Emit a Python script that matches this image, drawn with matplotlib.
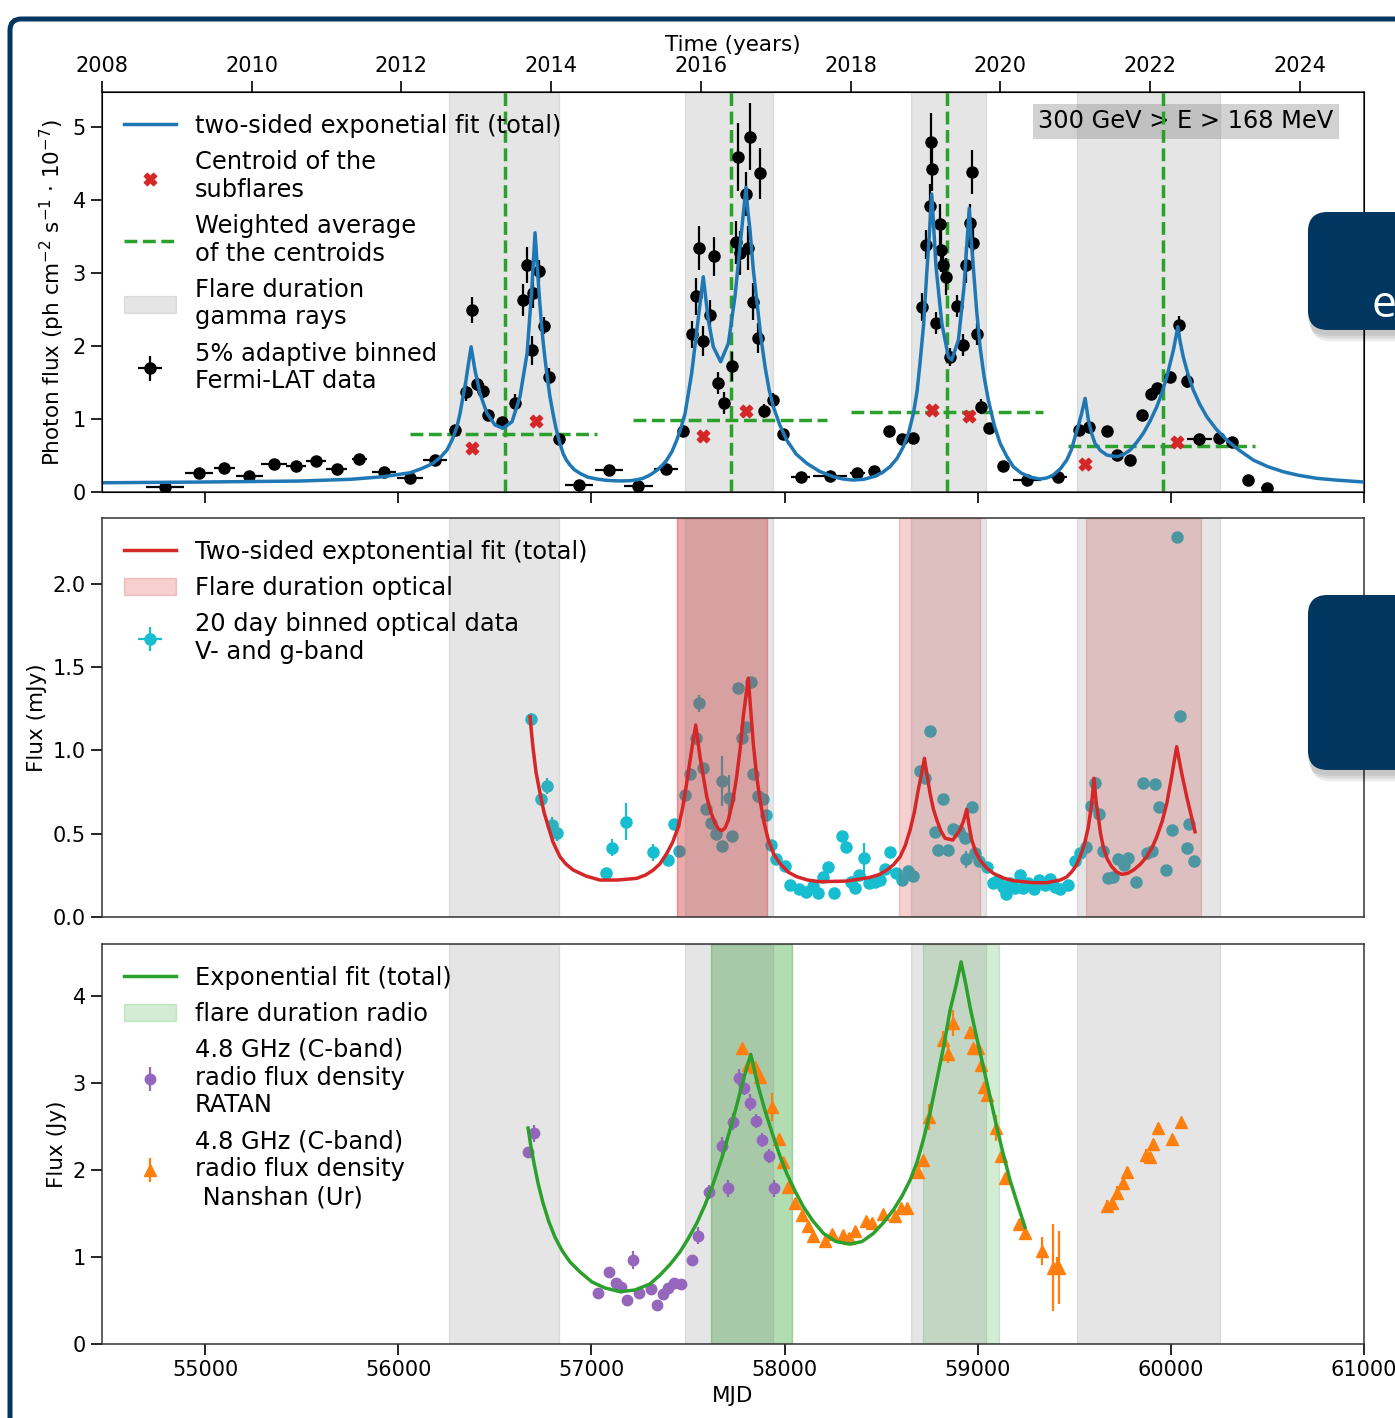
import matplotlib
matplotlib.use("Agg")
import matplotlib.pyplot as plt
import matplotlib.patches as patches

# ---- gamma rays: Fermi-LAT, 5% adaptive binning (MJD, flux in 1e-7 ph cm-2 s-1)
fermi_mjd = [54792, 54970, 55099, 55229, 55358, 55470, 55574, 55681, 55798, 55926,
             56061, 56190, 56294, 56349, 56380, 56406, 56440, 56466, 56535, 56604,
             56644, 56668, 56694, 56699, 56730, 56756, 56782, 56832, 56936, 57093,
             57243, 57386, 57476, 57519, 57540, 57557, 57579, 57614, 57636, 57654,
             57686, 57726, 57747, 57760, 57769, 57799, 57812, 57820, 57835, 57861,
             57873, 57895, 57939, 57994, 58084, 58235, 58377, 58465, 58542, 58607,
             58664, 58710, 58731, 58753, 58757, 58765, 58783, 58805, 58808, 58819,
             58834, 58857, 58891, 58926, 58939, 58960, 58969, 58977, 58995, 59017,
             59060, 59130, 59254, 59417, 59526, 59578, 59668, 59723, 59789, 59852,
             59896, 59927, 59996, 60044, 60082, 60147, 60251, 60318, 60401, 60496]
fermi_flux = [0.07, 0.26, 0.33, 0.22, 0.38, 0.36, 0.42, 0.32, 0.45, 0.28,
              0.19, 0.44, 0.85, 1.37, 2.49, 1.48, 1.39, 1.05, 0.96, 1.22,
              2.63, 3.11, 1.94, 2.72, 3.03, 2.28, 1.58, 0.72, 0.10, 0.30,
              0.08, 0.32, 0.83, 2.16, 2.68, 3.34, 2.07, 2.43, 3.23, 1.50,
              1.22, 1.72, 3.42, 4.59, 3.27, 4.08, 3.34, 4.87, 2.61, 2.11,
              4.37, 1.11, 1.26, 0.79, 0.21, 0.22, 0.26, 0.29, 0.84, 0.73,
              0.74, 2.53, 3.39, 3.92, 4.80, 4.42, 2.32, 3.67, 3.31, 3.11,
              2.95, 1.85, 2.55, 2.01, 3.11, 3.69, 4.38, 3.41, 2.17, 1.17,
              0.88, 0.35, 0.17, 0.20, 0.85, 0.89, 0.84, 0.51, 0.44, 1.05,
              1.35, 1.42, 1.57, 2.29, 1.52, 0.72, 0.74, 0.68, 0.16, 0.06]
fermi_xerr = [98, 72, 55, 70, 67, 50, 50, 55, 40, 60,
              65, 60, 20, 10, 8, 8, 10, 10, 15, 12,
              8, 8, 6, 6, 8, 8, 10, 15, 72, 72,
              75, 60, 15, 8, 6, 6, 6, 8, 6, 8,
              8, 6, 5, 5, 5, 5, 5, 5, 6, 6,
              6, 10, 15, 20, 50, 86, 40, 30, 15, 15,
              15, 6, 5, 5, 4, 4, 5, 4, 4, 4,
              5, 6, 6, 6, 5, 5, 5, 5, 6, 10,
              15, 25, 73, 45, 15, 15, 15, 15, 15, 12,
              10, 10, 10, 8, 10, 65, 25, 20, 25, 30]
fermi_yerr = [0.03, 0.04, 0.04, 0.04, 0.04, 0.04, 0.04, 0.04, 0.04, 0.04,
              0.03, 0.04, 0.06, 0.12, 0.18, 0.10, 0.10, 0.06, 0.06, 0.12,
              0.22, 0.25, 0.20, 0.20, 0.15, 0.12, 0.12, 0.05, 0.03, 0.03,
              0.03, 0.04, 0.08, 0.18, 0.25, 0.30, 0.20, 0.20, 0.27, 0.15,
              0.15, 0.20, 0.30, 0.46, 0.30, 0.30, 0.30, 0.46, 0.25, 0.20,
              0.35, 0.10, 0.10, 0.05, 0.03, 0.03, 0.03, 0.03, 0.05, 0.05,
              0.05, 0.19, 0.20, 0.30, 0.39, 0.30, 0.15, 0.28, 0.30, 0.20,
              0.25, 0.12, 0.15, 0.15, 0.25, 0.25, 0.30, 0.30, 0.15, 0.10,
              0.06, 0.03, 0.03, 0.03, 0.06, 0.06, 0.06, 0.04, 0.04, 0.08,
              0.08, 0.08, 0.07, 0.12, 0.10, 0.04, 0.04, 0.04, 0.03, 0.03]

# two-sided exponential fit (total)
fermi_fit_mjd = [54466, 54973, 55491, 55750, 55921, 56061, 56120, 56180, 56220, 56252,
                 56280, 56304, 56320, 56335, 56350, 56361, 56377, 56397, 56423, 56459,
                 56501, 56542, 56589, 56630, 56667, 56692, 56708, 56729, 56739, 56749,
                 56760, 56770, 56785, 56801, 56816, 56832, 56853, 56870, 56889, 56912,
                 56941, 56980, 57029, 57070, 57112, 57155, 57200, 57235, 57267, 57303,
                 57340, 57370, 57390, 57418, 57442, 57465, 57485, 57519, 57548, 57579,
                 57605, 57631, 57669, 57709, 57743, 57778, 57800, 57810, 57821, 57838,
                 57856, 57877, 57899, 57920, 57942, 57975, 58011, 58060, 58115, 58180,
                 58252, 58300, 58356, 58410, 58460, 58505, 58546, 58582, 58615, 58643,
                 58667, 58686, 58701, 58720, 58736, 58750, 58762, 58784, 58814, 58848,
                 58865, 58900, 58929, 58956, 58966, 58977, 58994, 59012, 59033, 59055,
                 59085, 59116, 59150, 59184, 59225, 59271, 59323, 59360, 59391, 59428,
                 59461, 59485, 59504, 59522, 59538, 59556, 59573, 59590, 59607, 59635,
                 59668, 59720, 59755, 59789, 59823, 59857, 59893, 59927, 59955, 59979,
                 60013, 60036, 60048, 60064, 60088, 60116, 60150, 60186, 60235, 60289,
                 60350, 60427, 60500, 60582, 60660, 60755, 60850, 61000]
fermi_fit_flux = [0.127, 0.137, 0.151, 0.174, 0.210, 0.264, 0.320, 0.393, 0.480, 0.575,
                  0.720, 0.895, 1.080, 1.305, 1.520, 1.716, 1.990, 1.671, 1.352, 1.078,
                  0.918, 0.873, 0.963, 1.305, 1.900, 2.812, 3.552, 2.722, 2.380, 2.082,
                  1.820, 1.603, 1.310, 1.078, 0.880, 0.712, 0.530, 0.440, 0.370, 0.305,
                  0.256, 0.205, 0.178, 0.163, 0.155, 0.152, 0.155, 0.168, 0.188, 0.233,
                  0.300, 0.375, 0.438, 0.560, 0.712, 0.890, 1.078, 1.626, 2.264, 2.949,
                  2.356, 1.990, 1.785, 2.037, 2.675, 3.589, 4.174, 3.850, 3.589, 3.050,
                  2.630, 2.130, 1.716, 1.400, 1.168, 0.920, 0.712, 0.520, 0.393, 0.285,
                  0.210, 0.180, 0.164, 0.175, 0.210, 0.265, 0.347, 0.460, 0.621, 0.820,
                  1.078, 1.380, 1.763, 2.300, 2.996, 3.550, 4.082, 3.086, 2.311, 1.853,
                  1.808, 2.082, 2.812, 3.886, 3.450, 3.086, 2.500, 1.990, 1.580, 1.260,
                  0.920, 0.667, 0.490, 0.347, 0.260, 0.205, 0.178, 0.195, 0.233, 0.320,
                  0.438, 0.580, 0.758, 0.920, 1.078, 1.284, 0.986, 0.800, 0.667, 0.570,
                  0.507, 0.484, 0.515, 0.575, 0.680, 0.804, 0.975, 1.168, 1.370, 1.579,
                  1.945, 2.264, 2.060, 1.853, 1.620, 1.397, 1.200, 1.032, 0.860, 0.712,
                  0.580, 0.438, 0.350, 0.278, 0.230, 0.188, 0.165, 0.137]

centroid_mjd = [56380, 56711, 57576, 57800, 58762, 58956, 59556, 60030]
centroid_flux = [0.60, 0.98, 0.77, 1.11, 1.12, 1.04, 0.38, 0.68]

wavg_mjd = [56553, 57721, 58843, 59961]
wavg_level = [0.79, 0.99, 1.09, 0.63]
wavg_start = [56061, 57215, 58342, 59469]
wavg_end = [57029, 58218, 59338, 60436]

gamma_start = [56262, 57486, 58655, 59516]
gamma_end = [56832, 57939, 59041, 60255]

# ---- optical, 20 day bins (mJy)
opt_mjd = [56687, 56737, 56768, 56794, 56823, 57075, 57105, 57177, 57317, 57398,
           57429, 57453, 57485, 57510, 57540, 57557, 57579, 57593, 57619, 57644,
           57675, 57678, 57712, 57728, 57760, 57778, 57799, 57825, 57838, 57864,
           57887, 57904, 57928, 57956, 58002, 58028, 58076, 58111, 58149, 58172,
           58201, 58226, 58258, 58299, 58317, 58342, 58365, 58387, 58411, 58439,
           58468, 58494, 58520, 58546, 58575, 58607, 58641, 58664, 58701, 58727,
           58753, 58779, 58796, 58819, 58848, 58874, 58905, 58934, 58938, 58969,
           58986, 59008, 59050, 59081, 59107, 59130, 59145, 59167, 59193, 59219,
           59236, 59262, 59292, 59317, 59348, 59374, 59400, 59426, 59469, 59504,
           59530, 59559, 59585, 59607, 59630, 59647, 59676, 59702, 59728, 59757,
           59780, 59820, 59854, 59875, 59901, 59918, 59937, 59973, 60004, 60030,
           60049, 60082, 60096, 60122]
opt_flux = [1.187, 0.707, 0.787, 0.553, 0.506, 0.262, 0.416, 0.572, 0.388, 0.342,
            0.557, 0.398, 0.733, 0.859, 1.073, 1.283, 0.893, 0.647, 0.566, 0.498,
            0.426, 0.819, 0.713, 0.486, 1.374, 1.073, 1.139, 1.410, 0.857, 0.729,
            0.707, 0.611, 0.432, 0.346, 0.306, 0.192, 0.166, 0.152, 0.186, 0.142,
            0.238, 0.298, 0.142, 0.486, 0.422, 0.212, 0.172, 0.252, 0.356, 0.206,
            0.212, 0.222, 0.286, 0.392, 0.266, 0.222, 0.278, 0.248, 0.879, 0.833,
            1.119, 0.512, 0.402, 0.709, 0.402, 0.527, 0.518, 0.473, 0.346, 0.662,
            0.386, 0.336, 0.302, 0.206, 0.222, 0.182, 0.136, 0.202, 0.172, 0.252,
            0.172, 0.202, 0.168, 0.222, 0.192, 0.226, 0.182, 0.168, 0.192, 0.338,
            0.383, 0.422, 0.667, 0.807, 0.617, 0.398, 0.232, 0.242, 0.346, 0.312,
            0.352, 0.212, 0.803, 0.383, 0.398, 0.799, 0.662, 0.282, 0.523, 2.284,
            1.207, 0.413, 0.557, 0.336]
opt_err = [0.04, 0.04, 0.05, 0.05, 0.05, 0.03, 0.05, 0.11, 0.05, 0.03,
           0.03, 0.03, 0.03, 0.03, 0.03, 0.05, 0.03, 0.03, 0.03, 0.03,
           0.03, 0.15, 0.14, 0.03, 0.03, 0.03, 0.03, 0.03, 0.03, 0.03,
           0.03, 0.03, 0.03, 0.03, 0.02, 0.02, 0.02, 0.02, 0.02, 0.02,
           0.02, 0.02, 0.02, 0.02, 0.02, 0.02, 0.02, 0.02, 0.09, 0.02,
           0.02, 0.02, 0.02, 0.02, 0.02, 0.02, 0.02, 0.02, 0.02, 0.02,
           0.02, 0.02, 0.02, 0.02, 0.02, 0.02, 0.02, 0.02, 0.05, 0.02,
           0.02, 0.02, 0.02, 0.02, 0.02, 0.02, 0.02, 0.02, 0.02, 0.02,
           0.02, 0.02, 0.02, 0.02, 0.02, 0.02, 0.02, 0.02, 0.02, 0.02,
           0.02, 0.02, 0.02, 0.02, 0.02, 0.02, 0.02, 0.02, 0.02, 0.02,
           0.02, 0.02, 0.02, 0.02, 0.02, 0.02, 0.02, 0.02, 0.02, 0.02,
           0.02, 0.02, 0.02, 0.02]

opt_fit_mjd = [56682, 56690, 56699, 56713, 56734, 56754, 56777, 56801, 56837, 56868,
               56906, 56972, 57044, 57132, 57234, 57280, 57320, 57355, 57390, 57420,
               57450, 57472, 57493, 57519, 57540, 57562, 57597, 57618, 57640, 57657,
               57675, 57692, 57709, 57731, 57752, 57770, 57786, 57812, 57838, 57855,
               57873, 57894, 57916, 57945, 57976, 58018, 58063, 58120, 58184, 58322,
               58442, 58490, 58529, 58565, 58598, 58625, 58650, 58672, 58692, 58709,
               58724, 58753, 58770, 58788, 58808, 58831, 58871, 58908, 58926, 58943,
               58955, 58969, 58990, 59012, 59045, 59081, 59130, 59184, 59288, 59357,
               59426, 59460, 59487, 59510, 59530, 59553, 59573, 59590, 59602, 59612,
               59624, 59636, 59650, 59670, 59694, 59720, 59746, 59775, 59806, 59840,
               59875, 59902, 59927, 59955, 59979, 60004, 60030, 60056, 60082, 60125]
opt_fit_flux = [1.203, 1.105, 1.003, 0.871, 0.743, 0.631, 0.542, 0.450, 0.362, 0.318,
                0.282, 0.246, 0.222, 0.222, 0.232, 0.252, 0.282, 0.320, 0.382, 0.448,
                0.542, 0.653, 0.803, 1.003, 1.153, 0.963, 0.723, 0.630, 0.563, 0.530,
                0.518, 0.535, 0.583, 0.690, 0.843, 1.010, 1.203, 1.434, 1.043, 0.850,
                0.703, 0.565, 0.462, 0.375, 0.322, 0.270, 0.242, 0.222, 0.212, 0.216,
                0.238, 0.255, 0.282, 0.315, 0.362, 0.430, 0.523, 0.630, 0.763, 0.860,
                0.953, 0.743, 0.650, 0.583, 0.520, 0.473, 0.462, 0.523, 0.575, 0.647,
                0.550, 0.462, 0.390, 0.342, 0.295, 0.262, 0.235, 0.218, 0.206, 0.206,
                0.222, 0.240, 0.272, 0.310, 0.362, 0.440, 0.542, 0.680, 0.833, 0.700,
                0.602, 0.500, 0.422, 0.350, 0.302, 0.270, 0.256, 0.262, 0.282, 0.315,
                0.362, 0.415, 0.482, 0.575, 0.683, 0.843, 1.023, 0.863, 0.723, 0.512]

# first optical flare is shaded twice in the original
optical_start = [57443, 57443, 58593, 59561]
optical_end = [57909, 57909, 59012, 60156]

# ---- radio 4.8 GHz (Jy)
ratan_mjd = [56673, 56704, 57036, 57093, 57127, 57153, 57186, 57217, 57248, 57307,
             57338, 57369, 57398, 57429, 57462, 57519, 57553, 57610, 57678, 57706,
             57735, 57766, 57792, 57821, 57852, 57885, 57918, 57945]
ratan_flux = [2.203, 2.421, 0.583, 0.831, 0.705, 0.659, 0.506, 0.966, 0.583, 0.628,
              0.448, 0.575, 0.640, 0.698, 0.686, 0.966, 1.245, 1.743, 2.280, 1.789,
              2.556, 3.061, 2.946, 2.774, 2.563, 2.345, 2.161, 1.789]
ratan_err = [0.03, 0.10, 0.03, 0.03, 0.03, 0.03, 0.03, 0.10, 0.03, 0.03,
             0.03, 0.03, 0.03, 0.03, 0.03, 0.03, 0.10, 0.08, 0.10, 0.10,
             0.10, 0.10, 0.08, 0.10, 0.08, 0.08, 0.08, 0.10]

nanshan_mjd = [57778, 57812, 57847, 57873, 57933, 57971, 57990, 58019, 58054, 58089,
               58123, 58149, 58209, 58244, 58304, 58335, 58365, 58422, 58451, 58511,
               58572, 58603, 58632, 58692, 58718, 58749, 58819, 58848, 58874, 58960,
               58977, 59003, 59017, 59033, 59050, 59095, 59119, 59141, 59215, 59245,
               59331, 59391, 59408, 59423, 59668, 59694, 59720, 59751, 59775, 59871,
               59892, 59909, 59932, 60004, 60051]
nanshan_flux = [3.398, 3.207, 3.188, 3.073, 2.728, 2.352, 2.096, 1.801, 1.625, 1.483,
                1.356, 1.245, 1.184, 1.261, 1.253, 1.222, 1.299, 1.414, 1.395, 1.494,
                1.475, 1.567, 1.567, 1.973, 2.115, 2.613, 3.494, 3.330, 3.686, 3.590,
                3.398, 3.398, 3.207, 2.958, 2.862, 2.487, 2.161, 1.904, 1.375, 1.272,
                1.072, 0.877, 0.900, 0.877, 1.590, 1.617, 1.732, 1.854, 1.980, 2.172,
                2.153, 2.299, 2.487, 2.356, 2.548]
nanshan_err = [0.05, 0.05, 0.05, 0.05, 0.16, 0.05, 0.05, 0.05, 0.05, 0.05,
               0.05, 0.05, 0.05, 0.05, 0.05, 0.05, 0.05, 0.05, 0.05, 0.05,
               0.05, 0.05, 0.05, 0.05, 0.05, 0.15, 0.10, 0.10, 0.15, 0.05,
               0.05, 0.05, 0.05, 0.05, 0.05, 0.15, 0.05, 0.05, 0.05, 0.05,
               0.16, 0.50, 0.10, 0.42, 0.06, 0.06, 0.08, 0.08, 0.05, 0.07,
               0.05, 0.05, 0.05, 0.05, 0.05]

radio_fit_mjd = [56672, 56687, 56703, 56723, 56749, 56780, 56811, 56848, 56889, 56941,
                 57003, 57070, 57148, 57226, 57303, 57355, 57407, 57459, 57500, 57545,
                 57588, 57631, 57675, 57717, 57754, 57786, 57825, 57864, 57901, 57942,
                 57976, 58011, 58054, 58097, 58147, 58201, 58266, 58339, 58401, 58460,
                 58510, 58563, 58608, 58650, 58686, 58718, 58753, 58788, 58823, 58857,
                 58888, 58914, 58937, 58960, 58994, 59029, 59064, 59098, 59131, 59167,
                 59206, 59245]
radio_fit_flux = [2.483, 2.268, 2.076, 1.855, 1.625, 1.403, 1.230, 1.074, 0.943, 0.828,
                  0.713, 0.644, 0.601, 0.621, 0.690, 0.793, 0.914, 1.061, 1.207, 1.387,
                  1.598, 1.847, 2.138, 2.460, 2.759, 3.034, 3.330, 2.958, 2.667, 2.383,
                  2.161, 1.962, 1.759, 1.578, 1.414, 1.272, 1.178, 1.149, 1.178, 1.272,
                  1.391, 1.540, 1.701, 1.885, 2.092, 2.345, 2.655, 3.034, 3.414, 3.839,
                  4.126, 4.394, 4.149, 3.877, 3.529, 3.188, 2.839, 2.498, 2.195, 1.885,
                  1.609, 1.341]

radio_start = [57618, 57618, 58717]
radio_end = [58037, 58037, 59110]

year_ticks = [2008, 2010, 2012, 2014, 2016, 2018, 2020, 2022, 2024]
mjd_ticks = [55000, 56000, 57000, 58000, 59000, 60000, 61000]

navy = "#003660"
tick_fs = 15
label_fs = 15.5
leg_fs = 17.4

fig = plt.figure(figsize=(13.95, 14.18), dpi=100)
ax1 = fig.add_axes([0.0731, 0.6530, 0.9047, 0.2821])
ax2 = fig.add_axes([0.0731, 0.3533, 0.9047, 0.2814])
ax3 = fig.add_axes([0.0731, 0.0522, 0.9047, 0.2821])

for ax in (ax1, ax2, ax3):
    ax.set_xlim(54466, 61000)
    ax.tick_params(labelsize=tick_fs, length=8, width=1.2)
    for s in ax.spines.values():
        s.set_linewidth(1.1)
        s.set_color("#333333")

# ---------------- gamma rays
for i in range(len(gamma_start)):
    gspan = ax1.axvspan(gamma_start[i], gamma_end[i], color="gray", alpha=0.2, zorder=0.5)
for i in range(len(wavg_mjd)):
    wline = ax1.axvline(wavg_mjd[i], color="tab:green", ls="--", lw=2.5, zorder=2)
    ax1.hlines(wavg_level[i], wavg_start[i], wavg_end[i], color="tab:green", ls="--", lw=2.5, zorder=2)
eb = ax1.errorbar(fermi_mjd, fermi_flux, xerr=fermi_xerr, yerr=fermi_yerr, fmt="o",
                  color="black", ms=8, elinewidth=1.6, zorder=3)
fit_line, = ax1.plot(fermi_fit_mjd, fermi_fit_flux, color="tab:blue", lw=2.5, zorder=4)
cent = ax1.scatter(centroid_mjd, centroid_flux, marker="X", color="tab:red", s=80, zorder=5)
ax1.set_ylim(0, 5.48)
ax1.set_yticks([0, 1, 2, 3, 4, 5])
ax1.tick_params(axis="x", bottom=False, labelbottom=False)
ax1.set_ylabel("Photon flux (ph cm$^{-2}$ s$^{-1}$ $\\cdot$ 10$^{-7}$)", fontsize=label_fs)
ax1.text(0.976, 0.957, "300 GeV > E > 168 MeV", transform=ax1.transAxes, ha="right", va="top",
         fontsize=leg_fs, zorder=1, bbox=dict(facecolor="gray", alpha=0.35, edgecolor="none", pad=4))
ax1.legend([fit_line, cent, wline, gspan, eb],
           ["two-sided exponetial fit (total)", "Centroid of the\nsubflares",
            "Weighted average\nof the centroids", "Flare duration\ngamma rays",
            "5% adaptive binned\nFermi-LAT data"],
           loc="upper left", frameon=False, fontsize=leg_fs, handlelength=2.15)

top = ax1.twiny()
top.set_xlim(2008, 2024.86)
top.set_xticks(year_ticks)
top.tick_params(labelsize=tick_fs, length=8, width=1.2)
top.set_xlabel("Time (years)", fontsize=label_fs)

# ---------------- optical (grey bands drawn over the red ones, both over the points)
for i in range(len(optical_start)):
    ospan = ax2.axvspan(optical_start[i], optical_end[i], color="tab:red", alpha=0.22, zorder=1.5)
    if i == 0:
        ospan_leg = ospan
for i in range(len(gamma_start)):
    ax2.axvspan(gamma_start[i], gamma_end[i], color="gray", alpha=0.2, zorder=2)
oeb = ax2.errorbar(opt_mjd, opt_flux, xerr=10, yerr=opt_err, fmt="o", color="tab:cyan",
                   ms=8, elinewidth=1.6, zorder=1)
ofit, = ax2.plot(opt_fit_mjd, opt_fit_flux, color="tab:red", lw=2.5, zorder=4)
ax2.set_ylim(0, 2.396)
ax2.set_yticks([0.0, 0.5, 1.0, 1.5, 2.0])
ax2.tick_params(axis="x", bottom=False, labelbottom=False)
ax2.set_ylabel("Flux (mJy)", fontsize=label_fs)
ax2.legend([ofit, ospan_leg, oeb],
           ["Two-sided exptonential fit (total)", "Flare duration optical",
            "20 day binned optical data\nV- and g-band"],
           loc="upper left", frameon=False, fontsize=leg_fs, handlelength=2.15)

# ---------------- radio
for i in range(len(radio_start)):
    rspan = ax3.axvspan(radio_start[i], radio_end[i], color="tab:green", alpha=0.2, zorder=0.5)
    if i == 0:
        rspan_leg = rspan
for i in range(len(gamma_start)):
    ax3.axvspan(gamma_start[i], gamma_end[i], color="gray", alpha=0.2, zorder=0.6)
reb = ax3.errorbar(ratan_mjd, ratan_flux, yerr=ratan_err, fmt="o", color="tab:purple",
                   ms=7.5, elinewidth=1.6, zorder=2)
neb = ax3.errorbar(nanshan_mjd, nanshan_flux, yerr=nanshan_err, fmt="^", color="tab:orange",
                   ms=9, elinewidth=1.6, zorder=2)
rfit, = ax3.plot(radio_fit_mjd, radio_fit_flux, color="tab:green", lw=2.5, zorder=4)
ax3.set_ylim(0, 4.6)
ax3.set_yticks([0, 1, 2, 3, 4])
ax3.set_xticks(mjd_ticks)
ax3.set_xlabel("MJD", fontsize=label_fs)
ax3.set_ylabel("Flux (Jy)", fontsize=label_fs)
ax3.legend([rfit, rspan_leg, reb, neb],
           ["Exponential fit (total)", "flare duration radio",
            "4.8 GHz (C-band)\nradio flux density\nRATAN",
            "4.8 GHz (C-band)\nradio flux density\n Nanshan (Ur)"],
           loc="upper left", frameon=False, fontsize=leg_fs, handlelength=2.15)

# ---------------- slide decoration around the figure
frame = patches.FancyBboxPatch((10 / 1395, -0.5), 2.0, 0.9866 + 0.5,
                               boxstyle="round,pad=0,rounding_size=0.008",
                               transform=fig.transFigure, fill=False, ec=navy, lw=3.6,
                               clip_on=False, zorder=10)
fig.add_artist(frame)

for y0, y1 in [(0.7673, 0.8505), (0.4570, 0.5804)]:
    for k, a in enumerate([0.08, 0.08, 0.08]):
        sh = patches.FancyBboxPatch((0.9376 + 0.001 * k, y0 - 0.004 - 0.002 * k), 0.2, y1 - y0,
                                    boxstyle="round,pad=0,rounding_size=0.014",
                                    transform=fig.transFigure, fc="black", ec="none",
                                    alpha=a, clip_on=False, zorder=10)
        fig.add_artist(sh)
    box = patches.FancyBboxPatch((0.9376, y0), 0.2, y1 - y0,
                                 boxstyle="round,pad=0,rounding_size=0.014",
                                 transform=fig.transFigure, fc=navy, ec="none",
                                 clip_on=False, zorder=11)
    fig.add_artist(box)

fig.text(0.9835, 0.7764, "e", color="white", fontsize=32, family=["Open Sans", "DejaVu Sans"],
         ha="left", va="baseline", zorder=12)

fig.savefig("out.png", dpi=100)
